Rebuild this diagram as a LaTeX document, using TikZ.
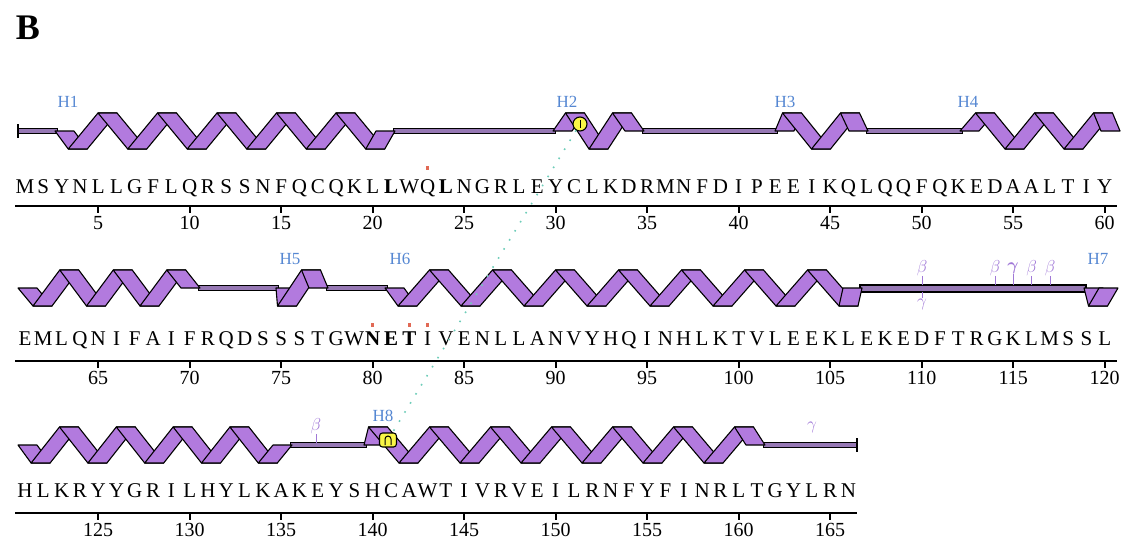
\documentclass[tikz,border=0pt]{standalone}
\usepackage{amsmath}
\usepackage{fontspec}
\setmainfont{Liberation Serif}

\definecolor{violetR}{RGB}{178,122,222}
\definecolor{fil}{RGB}{150,120,180}
\definecolor{bleuH}{RGB}{85,135,210}
\definecolor{violetG}{RGB}{160,120,215}
\definecolor{jaune}{RGB}{250,245,70}
\definecolor{rouge}{RGB}{225,105,85}
\definecolor{vertS}{RGB}{110,205,185}

%helice : debut, fin, premier extremum, demi-pas, nombre d'extrema, sens (1 bas, -1 haut), milieu
\newcommand{\helice}[7]{%
  \foreach \k in {0,...,#5}{
    \pgfmathsetmacro{\xA}{ifthenelse(\k==0,#1+9.5,#3+(\k-1)*#4)}
    \pgfmathsetmacro{\yA}{ifthenelse(\k==0,#7,#7+18*#6*(1-2*mod(\k+1,2)))}
    \pgfmathsetmacro{\xB}{ifthenelse(\k==#5,#2-9.5,#3+\k*#4)}
    \pgfmathsetmacro{\yB}{ifthenelse(\k==#5,#7,#7+18*#6*(1-2*mod(\k,2)))}
    \filldraw[brin] ({\xA-9.5},\yA) -- ({\xA+9.5},\yA) -- ({\xB+9.5},\yB) -- ({\xB-9.5},\yB) -- cycle;
  }}
%boucle : debut, fin, hauteur
\newcommand{\boucle}[3]{\filldraw[boucle] (#1,#3-2.5) rectangle (#2,#3+2.5);}

\begin{document}
\begin{tikzpicture}[x=1pt,y=-1pt,
    brin/.style={fill=violetR, draw=black, line width=1.1pt, line join=round},
    boucle/.style={fill=fil, draw=black, line width=0.9pt},
    residu/.style={anchor=base, inner sep=0pt, font=\fontsize{21}{21}\selectfont},
    num/.style={anchor=base, inner sep=0pt, font=\fontsize{20}{20}\selectfont},
    etiq/.style={anchor=base, inner sep=0pt, text=bleuH, font=\fontsize{17}{17}\selectfont},
    grec/.style={inner sep=0pt, text=violetG, font=\fontsize{19}{19}\selectfont},
    tige/.style={draw=violetG, line width=1pt},
    axe/.style={line width=2.2pt},
    marque/.style={fill=rouge, inner sep=0pt, minimum width=3pt, minimum height=4pt},
    ssbond/.style={fill=jaune, draw=black, line width=1.1pt, inner sep=0pt},
    pont/.style={draw=vertS, line width=1.6pt, dash pattern=on 1.6pt off 9pt}]

  \useasboundingbox (0,0) rectangle (1126,543);

  \node[font=\fontsize{36}{36}\selectfont\bfseries] (titre) at (28,28) {B};

  %rangee 1
  \boucle{18}{57}{131} \boucle{393}{555}{131} \boucle{642}{777}{131} \boucle{866}{962}{131}
  \draw[line width=1.8pt] (18,124) -- (18,138);
  \helice{55}{395}{77.75}{29.75}{11}{1}{131}
  \helice{553}{644}{575}{23.5}{3}{-1}{131}
  \helice{775}{868}{792}{29}{3}{-1}{131}
  \helice{960}{1120}{985}{29.5}{5}{-1}{131}
  \node[etiq] (h1) at (68,107) {H1};
  \node[etiq] (h2) at (567,107) {H2};
  \node[etiq] (h3) at (785,107) {H3};
  \node[etiq] (h4) at (968,107) {H4};

  \foreach \lettre [count=\i] in {M,S,Y,N,L,L,G,F,L,Q,R,S,S,N,F,Q,C,Q,K,L,\textbf{L},W,Q,\textbf{L},N,G,R,L,E,Y,C,L,K,D,R,M,N,F,D,I,P,E,E,I,K,Q,L,Q,Q,F,Q,K,E,D,A,A,L,T,I,Y}
    \node[residu] (a\i) at ({6.7+18.3*\i},193) {\lettre};
  \draw[axe] (15,206) -- (1117,206);
  \foreach \n in {5,10,...,60}{
    \draw[axe] ({6.7+18.3*\n},206) -- ++(0,7);
    \node[num] (na\n) at ({6.7+18.3*\n},229) {\n};
  }

  %rangee 2
  \boucle{198}{278}{288} \boucle{326}{387}{288}
  \filldraw[boucle, line width=2pt] (860,284.5) rectangle (1086,291.5);
  \helice{18}{200}{42.5}{26.75}{6}{1}{288}
  \helice{276}{328}{287}{24}{2}{1}{288}
  \helice{385}{862}{407.5}{31.5}{15}{1}{288}
  \helice{1084}{1118}{1098}{24}{1}{1}{288}
  \node[etiq] (h5) at (290,264) {H5};
  \node[etiq] (h6) at (400,264) {H6};
  \node[etiq] (h7) at (1098,264) {H7};
  \foreach \x/\nm in {922/110,995/114,1031.5/116,1050/117}{
    \node[grec] (be\nm) at (\x,268) {$\beta$};
    \coordinate (pb\nm) at (\x,284.5);
    \draw[tige] (be\nm) -- (pb\nm);
  }
  \node[grec] (ga115) at (1013,268) {$\boldsymbol{\gamma}$};
  \coordinate (pg115) at (1013,284.5);
  \draw[tige] (ga115) -- (pg115);
  \node[grec] (ga110) at (922,304) {$\gamma$};
  \coordinate (pg110) at (922,291.5);
  \draw[tige] (ga110) -- (pg110);

  \foreach \lettre [count=\i] in {E,M,L,Q,N,I,F,A,I,F,R,Q,D,S,S,S,T,G,W,\textbf{N},\textbf{E},\textbf{T},I,V,E,N,L,L,A,N,V,Y,H,Q,I,N,H,L,K,T,V,L,E,E,K,L,E,K,E,D,F,T,R,G,K,L,M,S,S,L}
    \node[residu] (b\i) at ({6.7+18.3*\i},345) {\lettre};
  \draw[axe] (15,361) -- (1117,361);
  \foreach \n [evaluate=\n as \m using int(\n+60)] in {5,10,...,60}{
    \draw[axe] ({6.7+18.3*\n},361) -- ++(0,7);
    \node[num] (nb\n) at ({6.7+18.3*\n},384) {\m};
  }

  %rangee 3
  \boucle{290}{366}{445} \boucle{763}{857}{445}
  \draw[line width=1.8pt] (857,438) -- (857,452);
  \helice{18}{292}{40.6}{28.4}{9}{1}{445}
  \helice{364}{765}{378}{30.5}{13}{-1}{445}
  \node[etiq] (h8) at (383,421) {H8};
  \node[grec] (be137) at (316,426) {$\beta$};
  \coordinate (pb137) at (316,442.5);
  \draw[tige] (be137) -- (pb137);
  \node[grec] (ga164) at (812,427) {$\gamma$};

  \foreach \lettre [count=\i] in {H,L,K,R,Y,Y,G,R,I,L,H,Y,L,K,A,K,E,Y,S,H,C,A,W,T,I,V,R,V,E,I,L,R,N,F,Y,F,I,N,R,L,T,G,Y,L,R,N}
    \node[residu] (c\i) at ({6.7+18.3*\i},497) {\lettre};
  \draw[axe] (15,513) -- (857,513);
  \foreach \n [evaluate=\n as \m using int(\n+120)] in {5,10,...,45}{
    \draw[axe] ({6.7+18.3*\n},513) -- ++(0,7);
    \node[num] (nc\n) at ({6.7+18.3*\n},536) {\m};
  }

  %marques rouges
  \node[marque] (m23) at ({6.7+18.3*23},168) {};
  \node[marque] (m80) at ({6.7+18.3*20},325) {};
  \node[marque] (m82) at ({6.7+18.3*22},325) {};
  \node[marque] (m83) at ({6.7+18.3*23},325) {};

  %pont disulfure
  \node[ssbond, circle, minimum size=14pt] (ss31) at (580,124) {};
  \draw[line width=1pt] (ss31.center) ++(0,-4) -- ++(0,8);
  \node[ssbond, rounded corners=3pt, minimum width=17pt, minimum height=14pt] (ss141) at (388,440) {};
  \draw[line width=1pt] (ss141.center) ++(-3,5) -- ++(0,-6) arc(180:360:3) -- ++(0,6);
  \draw[pont] (ss31) -- (ss141);
\end{tikzpicture}
\end{document}
